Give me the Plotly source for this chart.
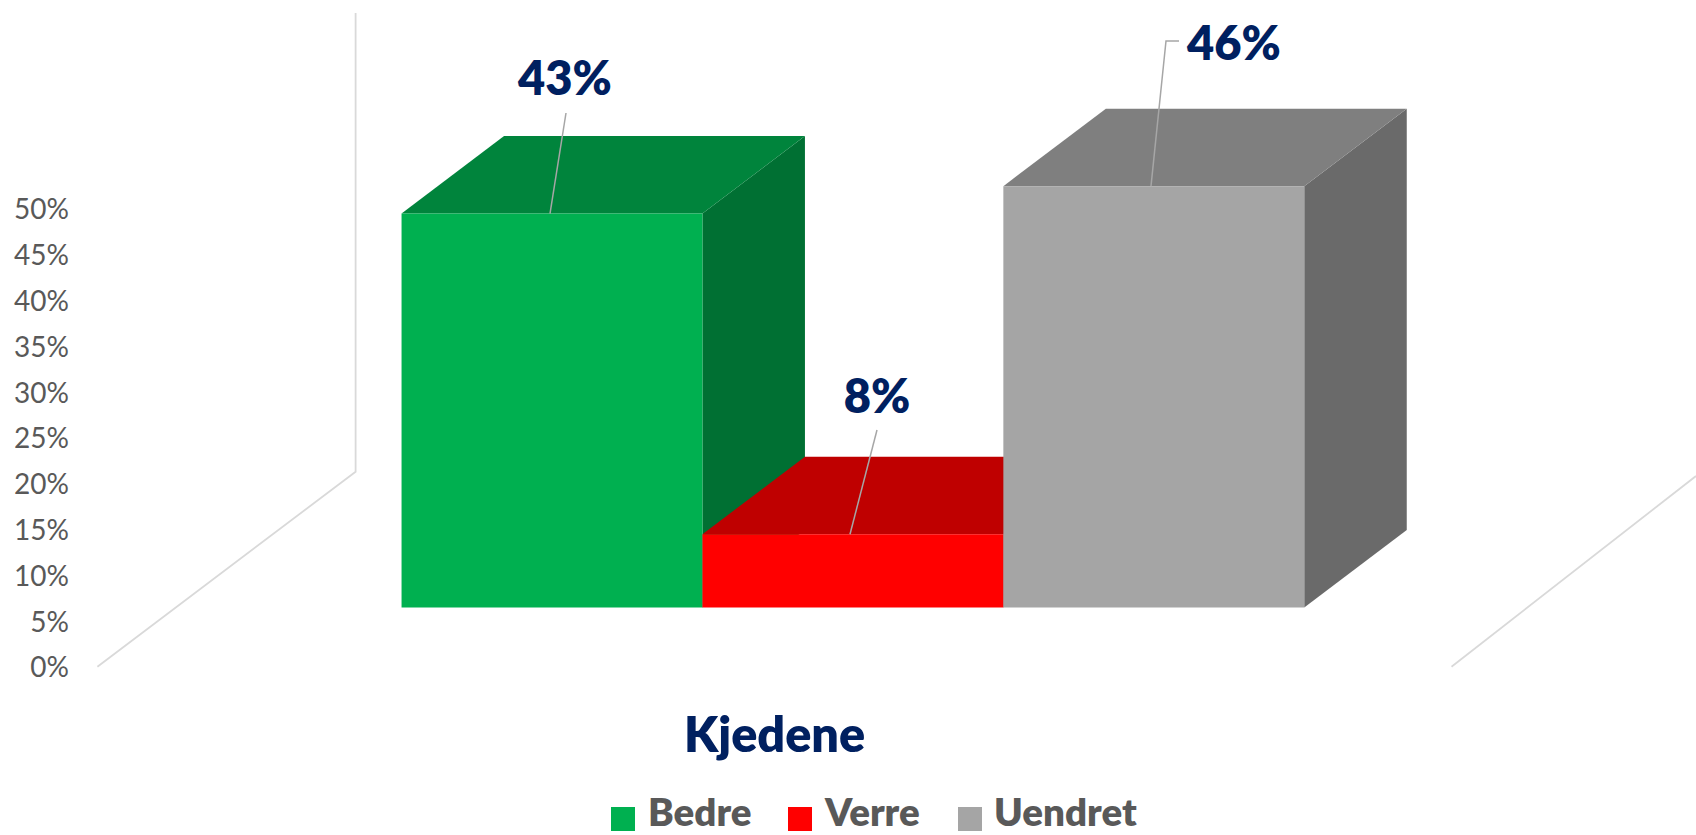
import plotly.graph_objects as go

# ---- data ----
categories = ["Bedre", "Verre", "Uendret"]
values = [43, 8, 46]
value_labels = ["43%", "8%", "46%"]
y_ticks = [0, 5, 10, 15, 20, 25, 30, 35, 40, 45, 50]
y_tick_labels = ["0%", "5%", "10%", "15%", "20%", "25%", "30%", "35%", "40%", "45%", "50%"]
axis_title = "Kjedene"

# ---- styles ----
front_colors = ["#00B050", "#FF0000", "#A5A5A5"]
top_colors = ["#00843C", "#BF0000", "#7F7F7F"]
side_colors = ["#007033", "#A00000", "#6A6A6A"]
NAVY = "#002060"
TICK_GRAY = "#595959"
WALL = "#D9D9D9"
LEADER = "#A6A6A6"
FONT = "Lato"

W, H = 1696, 835
PX_X = 300.9      # px per category
PX_Y = 9.16       # px per percent
X0_PX = 552.0     # px of first bar centre
Y0_PX = 607.5     # px of bars' front baseline
Y2_0_PX = 667.5   # px of the 0% tick on the wall axis
DX = 102.5 / PX_X  # depth of the 3D projection
DY = 77.5 / PX_Y


def xd(px):
    return (px - X0_PX) / PX_X


def yd(px):
    return (Y0_PX - px) / PX_Y


def y2d(px):
    return (Y2_0_PX - px) / PX_Y


fig = go.Figure()

# wall and floor lines (secondary axis: the ticked one)
fig.add_trace(go.Scatter(
    x=[xd(355.6), xd(355.6), xd(97.4), None, xd(1696), xd(1451.5)],
    y=[y2d(13), y2d(471.7), y2d(666.7), None, y2d(476), y2d(666.7)],
    mode="lines", line=dict(color=WALL, width=1.8), yaxis="y2",
    hoverinfo="skip", showlegend=False,
))

# 3D faces, back to front
for i, v in enumerate(values):
    l, r = i - 0.5, i + 0.5
    fig.add_trace(go.Scatter(
        x=[r, r + DX, r + DX, r, r], y=[0, DY, v + DY, v, 0],
        mode="lines", fill="toself", fillcolor=side_colors[i],
        line=dict(width=0), hoverinfo="skip", showlegend=False, zorder=1,
    ))
    fig.add_trace(go.Scatter(
        x=[l, l + DX, r + DX, r, l], y=[v, v + DY, v + DY, v, v],
        mode="lines", fill="toself", fillcolor=top_colors[i],
        line=dict(width=0), hoverinfo="skip", showlegend=False, zorder=1,
    ))

# front faces
fig.add_trace(go.Bar(
    x=[0, 1, 2], y=values, width=1, marker=dict(color=front_colors, line=dict(width=0)),
    showlegend=False, zorder=2, hovertext=categories,
))

# leader lines
leader_x = [[xd(550), xd(566)], [xd(850), xd(877)], [xd(1151), xd(1166), xd(1179)]]
leader_y = [[values[0], yd(113)], [values[1], yd(430)], [values[2], yd(41), yd(41)]]
for lx, ly in zip(leader_x, leader_y):
    fig.add_trace(go.Scatter(
        x=lx, y=ly, mode="lines", line=dict(color=LEADER, width=1.5),
        hoverinfo="skip", showlegend=False, zorder=3,
    ))

# value labels
fig.add_trace(go.Scatter(
    x=[xd(565), xd(877), xd(1234)], y=[yd(83), yd(401), yd(48)],
    mode="text", text=value_labels, textposition="middle center",
    textfont=dict(family=FONT, size=47, color=NAVY, weight=800),
    hoverinfo="skip", showlegend=False, zorder=4,
))

annotations = [dict(
    text=axis_title, xref="paper", yref="paper", x=774.7 / W, y=1 - 733 / H,
    xanchor="center", yanchor="middle", showarrow=False,
    font=dict(family=FONT, size=48.5, color=NAVY, weight=800),
)]
shapes = []
swatch_left = [611, 788, 958]
label_left = [646, 822, 992]
for name, color, sx, tx in zip(categories, front_colors, swatch_left, label_left):
    shapes.append(dict(
        type="rect", xref="paper", yref="paper", x0=sx / W, x1=(sx + 24) / W,
        y0=1 - 831 / H, y1=1 - 807 / H, fillcolor=color, line=dict(width=0),
    ))
    annotations.append(dict(
        text=name, xref="paper", yref="paper", x=tx / W, y=1 - 811 / H,
        xanchor="left", yanchor="middle", showarrow=False,
        font=dict(family=FONT, size=38.5, color=TICK_GRAY, weight=800),
    ))

fig.update_layout(
    width=W, height=H, margin=dict(l=0, r=0, t=0, b=0),
    paper_bgcolor="white", plot_bgcolor="white",
    font=dict(family=FONT), showlegend=False,
    xaxis=dict(range=[xd(0), xd(W)], visible=False, fixedrange=True),
    yaxis=dict(range=[yd(H), yd(0)], visible=False, fixedrange=True),
    yaxis2=dict(
        range=[y2d(H), y2d(0)], overlaying="y", anchor="free", position=69 / W, side="left",
        tickmode="array", tickvals=y_ticks, ticktext=y_tick_labels,
        tickfont=dict(family=FONT, size=28, color=TICK_GRAY),
        showgrid=False, zeroline=False, showline=False, ticks="", fixedrange=True,
    ),
    annotations=annotations, shapes=shapes,
)

fig.write_html(
    "out.html", config=dict(displayModeBar=False),
    post_script="document.body.style.margin='0';document.body.style.overflow='hidden';",
)
